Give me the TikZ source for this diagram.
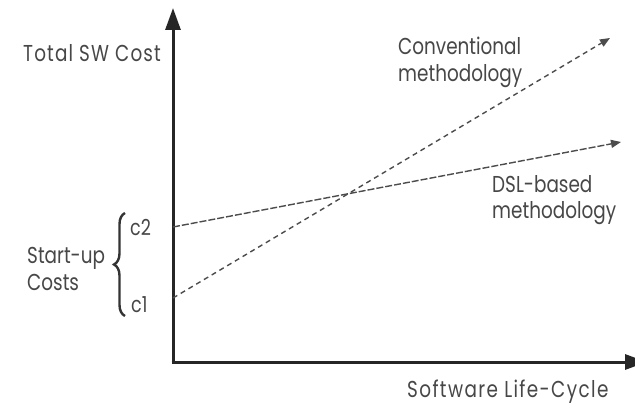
\documentclass[tikz,border=0pt]{standalone}
\usepackage{fontspec}
\setmainfont[FakeStretch=0.8]{Poppins}
\usetikzlibrary{arrows.meta,decorations.pathreplacing}
\begin{document}
\begin{tikzpicture}[x=1pt,y=1pt,
  lbl/.style={inner sep=0pt,anchor=base west,text=black!72,font=\fontsize{23}{27}\selectfont},
  wide/.style={lbl,font=\fontsize{23}{27}\selectfont\addfontfeature{LetterSpace=5}},
  small/.style={lbl,font=\fontsize{22}{26}\selectfont},
  axis/.style={line width=3pt,draw=black!85,-{Triangle[length=22pt,width=15pt]}},
  trend/.style={line width=1.4pt,draw=black!70,-{Triangle[length=10pt,width=8pt]}},
  conv/.style={trend,dash pattern=on 5pt off 4pt},
  dsl/.style={trend,dash pattern=on 7pt off 2pt}]
\useasboundingbox (0,0) rectangle (635,405);
% axes
\coordinate (O) at (173,43);
\coordinate (ytop) at (173,397);
\coordinate (xend) at (647,43);
\draw[axis] (O) -- (ytop);
\draw[axis] ([xshift=-1.5pt]O) -- (xend);
% start-up cost levels and trend lines
\coordinate (c1) at (173,107);
\coordinate (c2) at (173,178);
\coordinate (convend) at (610,367);
\coordinate (dslend) at (621,263);
\draw[conv] (c1) -- (convend);
\draw[dsl] (c2) -- (dslend);
% brace grouping the start-up costs
\coordinate (bb) at (125,89);
\coordinate (bt) at (125,192);
\draw[line width=2.4pt,draw=black!80,decorate,decoration={brace,amplitude=11pt}] (bb) -- (bt);
% labels
\node[wide] (ylab) at (23,343) {Total SW Cost};
\node[wide,font=\fontsize{23}{27}\selectfont\addfontfeature{LetterSpace=6}] (xlab) at (407,8) {Software Life-Cycle};
\node[lbl] (conv1) at (398,350) {Conventional};
\node[lbl] (conv2) at (398,323) {methodology};
\node[lbl] (dsl1) at (492,212) {DSL-based};
\node[lbl] (dsl2) at (492,186) {methodology};
\node[lbl] (su1) at (27,142) {Start-up};
\node[lbl] (su2) at (27,115) {Costs};
\node[small] (lc2) at (130,170) {c2};
\node[small] (lc1) at (131,93) {c1};
\end{tikzpicture}
\end{document}
